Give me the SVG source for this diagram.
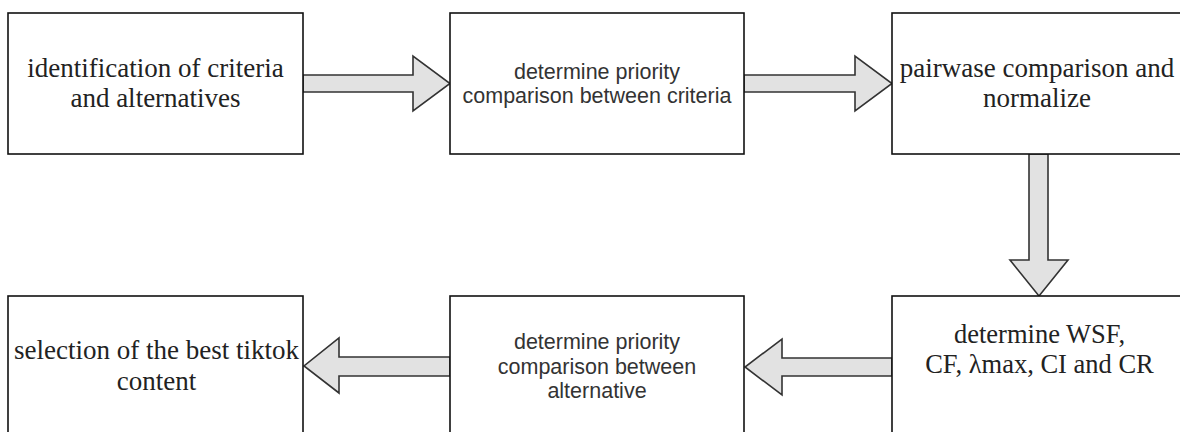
<svg xmlns="http://www.w3.org/2000/svg" width="1180" height="432" viewBox="0 0 1180 432">
<style>
.box{fill:#ffffff;stroke:#111111;stroke-width:1.6}
.serif{font-family:"Liberation Serif","Times New Roman",serif;font-size:27px;fill:#222222;text-anchor:middle}
.sans{font-family:"Liberation Sans",Arial,sans-serif;font-size:21.5px;fill:#333333;text-anchor:middle}
.arrow{fill:#e2e2e2;stroke:#333333;stroke-width:1.6;stroke-linejoin:miter}
</style>
<rect width="1180" height="432" fill="#ffffff"/>
<g id="connectors">
<polygon class="arrow" points="303,75 413,75 413,56 450,83.5 413,111 413,92 303,92"/>
<polygon class="arrow" points="744,75 855,75 855,56 892,83.5 855,111 855,92 744,92"/>
<polygon class="arrow" points="1029,154 1048,154 1048,260 1068,260 1039,296 1010,260 1029,260"/>
<polygon class="arrow" points="892,358 782,358 782,339 745,367 782,395 782,376 892,376"/>
<polygon class="arrow" points="450,357 339,357 339,338 304,366 339,393 339,376 450,376"/>
</g>
<g id="n1">
<rect class="box" x="8" y="13" width="295" height="141"/>
<text class="serif" x="155.5" y="76.5">identification of criteria</text>
<text class="serif" x="155.5" y="106.5">and alternatives</text>
</g>
<g id="n2">
<rect class="box" x="450" y="13" width="294" height="141"/>
<text class="sans" x="597" y="79">determine priority</text>
<text class="sans" x="597" y="102.5">comparison between criteria</text>
</g>
<g id="n3">
<rect class="box" x="892" y="13" width="295" height="141"/>
<text class="serif" x="1037" y="76.5">pairwase comparison and</text>
<text class="serif" x="1037" y="107">normalize</text>
</g>
<g id="n4">
<rect class="box" x="892" y="296" width="295" height="141"/>
<text class="serif" x="1039.5" y="342.5" style="font-size:26.5px">determine WSF,</text>
<text class="serif" x="1039.5" y="373" style="font-size:26.5px">CF, λmax, CI and CR</text>
</g>
<g id="n5">
<rect class="box" x="450" y="296" width="294" height="141"/>
<text class="sans" x="597" y="349">determine priority</text>
<text class="sans" x="597" y="373.5">comparison between</text>
<text class="sans" x="597" y="398">alternative</text>
</g>
<g id="n6">
<rect class="box" x="8" y="296" width="295" height="141"/>
<text class="serif" x="156.5" y="359">selection of the best tiktok</text>
<text class="serif" x="156.5" y="390">content</text>
</g>
</svg>
